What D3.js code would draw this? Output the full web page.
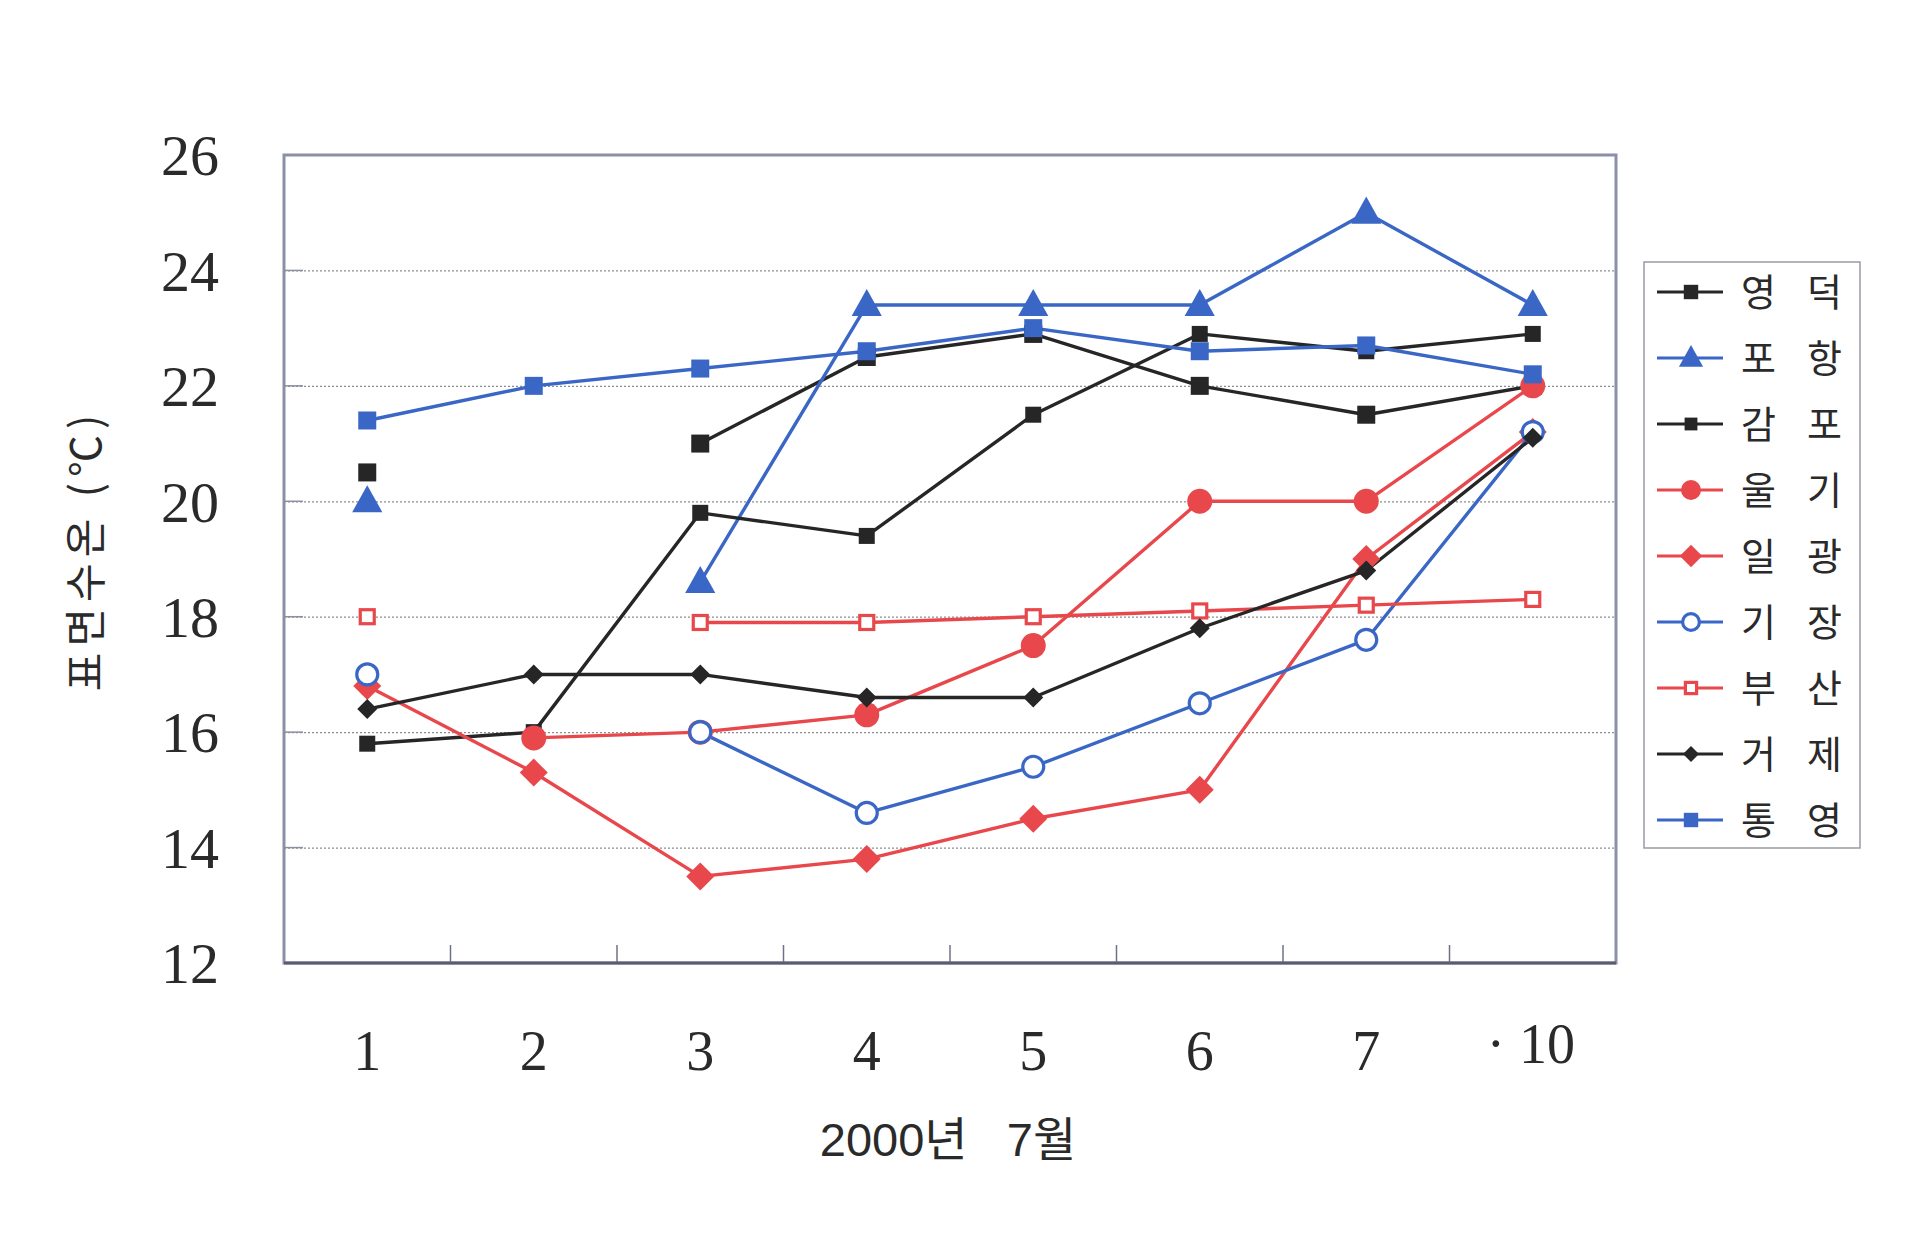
<!DOCTYPE html>
<html><head><meta charset="utf-8">
<script src="https://cdn.jsdelivr.net/npm/d3@7"></script>
<style>
html,body{margin:0;padding:0;background:#fff;}
svg{display:block;}
</style>
</head><body>
<svg id="c" width="1930" height="1240"></svg>
<script>
// ---- data ----
const categories = ["1","2","3","4","5","6","7","10"];
const tickLabels = ["1","2","3","4","5","6","7","· 10"];
const yTicks = [12,14,16,18,20,22,24,26];
const seriesNames = ["영덕","포항","감포","울기","일광","기장","부산","거제","통영"];
const yeongdeok = [20.5, null, 21.0, 22.5, 22.9, 22.0, 21.5, 22.0];
const pohang    = [20.0, null, 18.6, 23.4, 23.4, 23.4, 25.0, 23.4];
const gampo     = [15.8, 16.0, 19.8, 19.4, 21.5, 22.9, 22.6, 22.9];
const ulgi      = [null, 15.9, 16.0, 16.3, 17.5, 20.0, 20.0, 22.0];
const ilgwang   = [16.8, 15.3, 13.5, 13.8, 14.5, 15.0, 19.0, 21.2];
const gijang    = [17.0, null, 16.0, 14.6, 15.4, 16.5, 17.6, 21.2];
const busan     = [18.0, null, 17.9, 17.9, 18.0, 18.1, 18.2, 18.3];
const geoje     = [16.4, 17.0, 17.0, 16.6, 16.6, 17.8, 18.8, 21.1];
const tongyeong = [21.4, 22.0, 22.3, 22.6, 23.0, 22.6, 22.7, 22.2];
const xTitle = "2000년\u00a0\u00a0 7월";
const yTitle = "표면수온 (℃)";

const BLACK = "#262626", BLUE = "#3a67c6", RED = "#e8484c";
const styles = [
  {color:BLACK, shape:"square", size:18, fill:true},
  {color:BLUE, shape:"triangle", size:26, fill:true},
  {color:BLACK, shape:"square", size:16, fill:true},
  {color:RED, shape:"circle", size:25, fill:true},
  {color:RED, shape:"diamond", size:28, fill:true},
  {color:BLUE, shape:"circle", size:21, fill:false},
  {color:RED, shape:"square", size:14, fill:false},
  {color:BLACK, shape:"diamond", size:20, fill:true},
  {color:BLUE, shape:"square", size:18, fill:true}
];
const values = [yeongdeok, pohang, gampo, ulgi, ilgwang, gijang, busan, geoje, tongyeong];
const series = seriesNames.map((n,i)=>({name:n, values:values[i], style:styles[i]}));

// ---- layout ----
const svg = d3.select("#c");
const L = 284, R = 1616, T = 155, B = 963;
const x = d3.scaleBand().domain(categories).range([L, R]).paddingInner(0).paddingOuter(0);
const y = d3.scaleLinear().domain([12, 26]).range([B, T]);
const cx = c => x(c) + x.bandwidth()/2;

// gridlines
const grid = svg.append("g").attr("transform", `translate(${L},0)`)
  .call(d3.axisLeft(y).tickValues(yTicks.filter(v=>v>12 && v<26)).tickSize(-(R-L)).tickFormat(""));
grid.select(".domain").remove();
grid.selectAll("line").attr("stroke","#8d8d8d").attr("stroke-width",1.2).attr("stroke-dasharray","2,2");
svg.append("g").selectAll("line").data(yTicks.filter(v=>v>12 && v<26)).join("line")
  .attr("x1",L).attr("x2",L+19).attr("y1",d=>y(d)).attr("y2",d=>y(d))
  .attr("stroke","#8a8ea6").attr("stroke-width",1.5);

// x tick marks at band boundaries
svg.append("g").selectAll("line").data(categories.slice(1)).join("line")
  .attr("x1",d=>x(d)).attr("x2",d=>x(d)).attr("y1",B).attr("y2",B-18)
  .attr("stroke","#6e7288").attr("stroke-width",1.5);

// plot border
svg.append("rect").attr("x",L).attr("y",T).attr("width",R-L).attr("height",B-T)
  .attr("fill","none").attr("stroke","#8c8fa8").attr("stroke-width",3);
svg.append("line").attr("x1",L).attr("x2",R).attr("y1",B).attr("y2",B)
  .attr("stroke","#5a5d72").attr("stroke-width",3);

// y tick labels
const yAx = svg.append("g").attr("transform", `translate(${L-65},0)`)
  .call(d3.axisLeft(y).tickValues(yTicks).tickSize(0).tickPadding(0).tickFormat(d3.format("d")));
yAx.select(".domain").remove();
yAx.selectAll("text").attr("font-family","'Liberation Serif', serif").attr("font-size",58)
  .attr("fill","#2a2a2a").attr("dy","0.34em");

// x tick labels
const xAx = svg.append("g").attr("transform", `translate(0,${B+88})`)
  .call(d3.axisBottom(x).tickSize(0).tickPadding(0).tickFormat((d,i)=>tickLabels[i]));
xAx.select(".domain").remove();
xAx.selectAll("text").attr("font-family","'Liberation Serif', serif").attr("font-size",56)
  .attr("fill","#2a2a2a").attr("dy","0.34em");
xAx.selectAll("text").filter(d=>d==="10").attr("dy","0.22em").attr("dx","-2");

// titles
svg.append("text").attr("x",948).attr("y",1139).attr("text-anchor","middle").attr("dy","0.36em")
  .attr("font-family","'Liberation Sans', 'Noto Sans CJK KR', sans-serif").attr("font-size",47).attr("fill","#2a2a2a")
  .text(xTitle);
svg.append("text").attr("transform","translate(86,550) rotate(-90)").attr("text-anchor","middle").attr("dy","0.36em")
  .attr("font-family","'Noto Sans CJK KR', sans-serif").attr("font-size",42).attr("fill","#2a2a2a")
  .attr("letter-spacing","6px").text(yTitle);

// marker drawer
function marker(g, st, scale){
  const s = st.size*scale;
  let el;
  if (st.shape==="square") {
    el = g.append("rect").attr("x",-s/2).attr("y",-s/2).attr("width",s).attr("height",s);
  } else if (st.shape==="circle") {
    el = g.append("circle").attr("r",s/2);
  } else if (st.shape==="triangle") {
    el = g.append("path").attr("d",`M0,${-s*0.62}L${s*0.58},${s*0.42}L${-s*0.58},${s*0.42}Z`);
  } else if (st.shape==="diamond") {
    el = g.append("path").attr("d",`M0,${-s/2}L${s/2},0L0,${s/2}L${-s/2},0Z`);
  }
  if (st.fill) el.attr("fill",st.color).attr("stroke","none");
  else el.attr("fill","#fff").attr("stroke",st.color).attr("stroke-width",3.2);
}

// lines
const line = d3.line().defined(d=>d.v!=null).x(d=>cx(d.c)).y(d=>y(d.v));
const plot = svg.append("g");
series.forEach(s=>{
  const pts = categories.map((c,i)=>({c, v:s.values[i]}));
  plot.append("path").datum(pts).attr("d",line).attr("fill","none")
    .attr("stroke",s.style.color).attr("stroke-width",3.4).attr("stroke-linejoin","round");
});
series.forEach(s=>{
  categories.forEach((c,i)=>{
    const v = s.values[i];
    if (v==null) return;
    const g = plot.append("g").attr("transform",`translate(${cx(c)},${y(v)})`);
    marker(g, s.style, 1);
  });
});

// legend
const LX = 1644, LY = 262, LW = 216, LH = 586;
svg.append("rect").attr("x",LX).attr("y",LY).attr("width",LW).attr("height",LH)
  .attr("fill","#fff").attr("stroke","#9a9aa6").attr("stroke-width",1.5);
const ly = d3.scalePoint().domain(seriesNames).range([292, 820]);
series.forEach(s=>{
  const yy = ly(s.name);
  const g = svg.append("g");
  g.append("line").attr("x1",1657).attr("x2",1723).attr("y1",yy).attr("y2",yy)
    .attr("stroke",s.style.color).attr("stroke-width",3);
  const mg = g.append("g").attr("transform",`translate(1691,${yy})`);
  marker(mg, s.style, 0.8);
  g.append("text").attr("x",1741).attr("y",yy).attr("dy","0.36em")
    .attr("font-family","'Noto Sans CJK KR', sans-serif").attr("font-size",38).attr("fill","#2a2a2a")
    .attr("letter-spacing","31px").text(s.name);
});
</script>
</body></html>
